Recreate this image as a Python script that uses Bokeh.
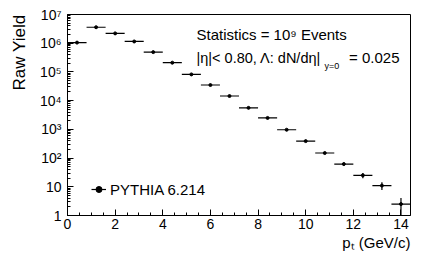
import numpy as np
from bokeh.plotting import figure
from bokeh.models import Label, FixedTicker, Legend, LegendItem, ColumnDataSource, Title
from bokeh.embed import file_html
from bokeh.resources import INLINE

# ---- data ----
pt_centers = [0.4, 1.2, 2.0, 2.8, 3.6, 4.4, 5.2, 6.0, 6.8, 7.6, 8.4, 9.2,
              10.0, 10.8, 11.6, 12.4, 13.2, 14.0]
pt_half_width = [0.4] * 18
raw_yield = [1.05e6, 3.6e6, 2.2e6, 1.15e6, 4.9e5, 2.1e5, 8.2e4, 3.5e4, 1.45e4,
             5.6e3, 2.5e3, 970, 390, 150, 62, 25, 11, 2.5]
yield_err = [1025, 1900, 1480, 1070, 700, 460, 286, 187, 120,
             75, 50, 31, 20, 12.2, 7.9, 5.0, 3.3, 1.58]
x_tick_values = [0, 2, 4, 6, 8, 10, 12, 14]
y_tick_values = [1, 10, 100, 1000, 10000, 100000, 1000000, 10000000]
y_tick_labels = ["1", "10", "10²", "10³", "10⁴", "10⁵", "10⁶", "10⁷"]
legend_label = "PYTHIA 6.214"

FONT = "Liberation Sans"

src = ColumnDataSource(dict(
    x=pt_centers,
    y=raw_yield,
    xl=[c - h for c, h in zip(pt_centers, pt_half_width)],
    xr=[c + h for c, h in zip(pt_centers, pt_half_width)],
    ylo=[v - e for v, e in zip(raw_yield, yield_err)],
    yhi=[v + e for v, e in zip(raw_yield, yield_err)],
))

p = figure(width=416, height=254, x_range=(0, 14.4), y_range=(1, 1e7),
           y_axis_type="log", output_backend="svg", toolbar_location=None,
           min_border_left=65, min_border_right=6, min_border_top=14,
           min_border_bottom=39)
p.xgrid.grid_line_color = None
p.ygrid.grid_line_color = None
p.outline_line_color = "black"
p.outline_line_width = 1
p.background_fill_color = "white"
p.border_fill_color = "white"

hseg = p.segment(x0="xl", x1="xr", y0="y", y1="y", source=src,
                 line_color="black", line_width=1.2)
vseg = p.segment(x0="x", x1="x", y0="ylo", y1="yhi", source=src,
                 line_color="black", line_width=1.2)
dots = p.scatter(x="x", y="y", source=src, size=3, marker="circle",
                 fill_color="black", line_color="black")

# x axis
xa = p.xaxis[0]
minor_x = [i * 0.5 for i in range(0, 29)]
xa.ticker = FixedTicker(ticks=x_tick_values, minor_ticks=minor_x)
xa.major_tick_in = 6
xa.major_tick_out = 0
xa.minor_tick_in = 3
xa.minor_tick_out = 0
xa.axis_line_color = "black"
xa.major_tick_line_color = "black"
xa.minor_tick_line_color = "black"
xa.major_label_text_font = FONT
xa.major_label_text_font_size = "14px"
xa.major_label_text_color = "black"
xa.major_label_standoff = 3

# y axis
ya = p.yaxis[0]
minor_y = [k * 10 ** n for n in range(0, 7) for k in range(2, 10)]
ya.ticker = FixedTicker(ticks=y_tick_values, minor_ticks=minor_y)
ya.major_label_overrides = {v: l for v, l in zip(y_tick_values, y_tick_labels)}
ya.major_tick_in = 6
ya.major_tick_out = 0
ya.minor_tick_in = 3
ya.minor_tick_out = 0
ya.axis_line_color = "black"
ya.major_tick_line_color = "black"
ya.minor_tick_line_color = "black"
ya.major_label_text_font = FONT
ya.major_label_text_font_size = "14px"
ya.major_label_text_color = "black"
ya.major_label_standoff = 6

# axis titles
p.add_layout(Title(text="Raw Yield", align="right", text_font=FONT,
                   text_font_size="17px", text_font_style="normal",
                   text_color="black", standoff=15), "left")
p.add_layout(Title(text="pₜ (GeV/c)", align="right", text_font=FONT,
                   text_font_size="15px", text_font_style="normal",
                   text_color="black", standoff=0), "below")

def lab(text, x, y, size, align="left", baseline="alphabetic"):
    p.add_layout(Label(text=text, x=x, y=y, x_units="screen", y_units="screen",
                       text_font=FONT, text_font_size=size, text_color="black",
                       text_align=align, text_baseline=baseline))

# annotations (screen coords relative to frame: x from left, y from bottom)
lab("Statistics = 10⁹ Events", 129, 181.5, "15px")
lab("|η|< 0.80, Λ: dN/dη|", 129, 158, "14.5px")
lab("y=0", 257, 150, "9px")
lab("= 0.025", 332, 158, "15px", align="right")

legend = Legend(items=[LegendItem(label=legend_label, renderers=[hseg, dots])],
                location=(24, 16), border_line_color=None,
                background_fill_alpha=0, padding=0, margin=0,
                glyph_width=15, glyph_height=20, label_standoff=4,
                label_text_font=FONT, label_text_font_size="15px",
                label_text_color="black")
p.add_layout(legend)

open("out.html", "w").write(file_html(p, INLINE))
